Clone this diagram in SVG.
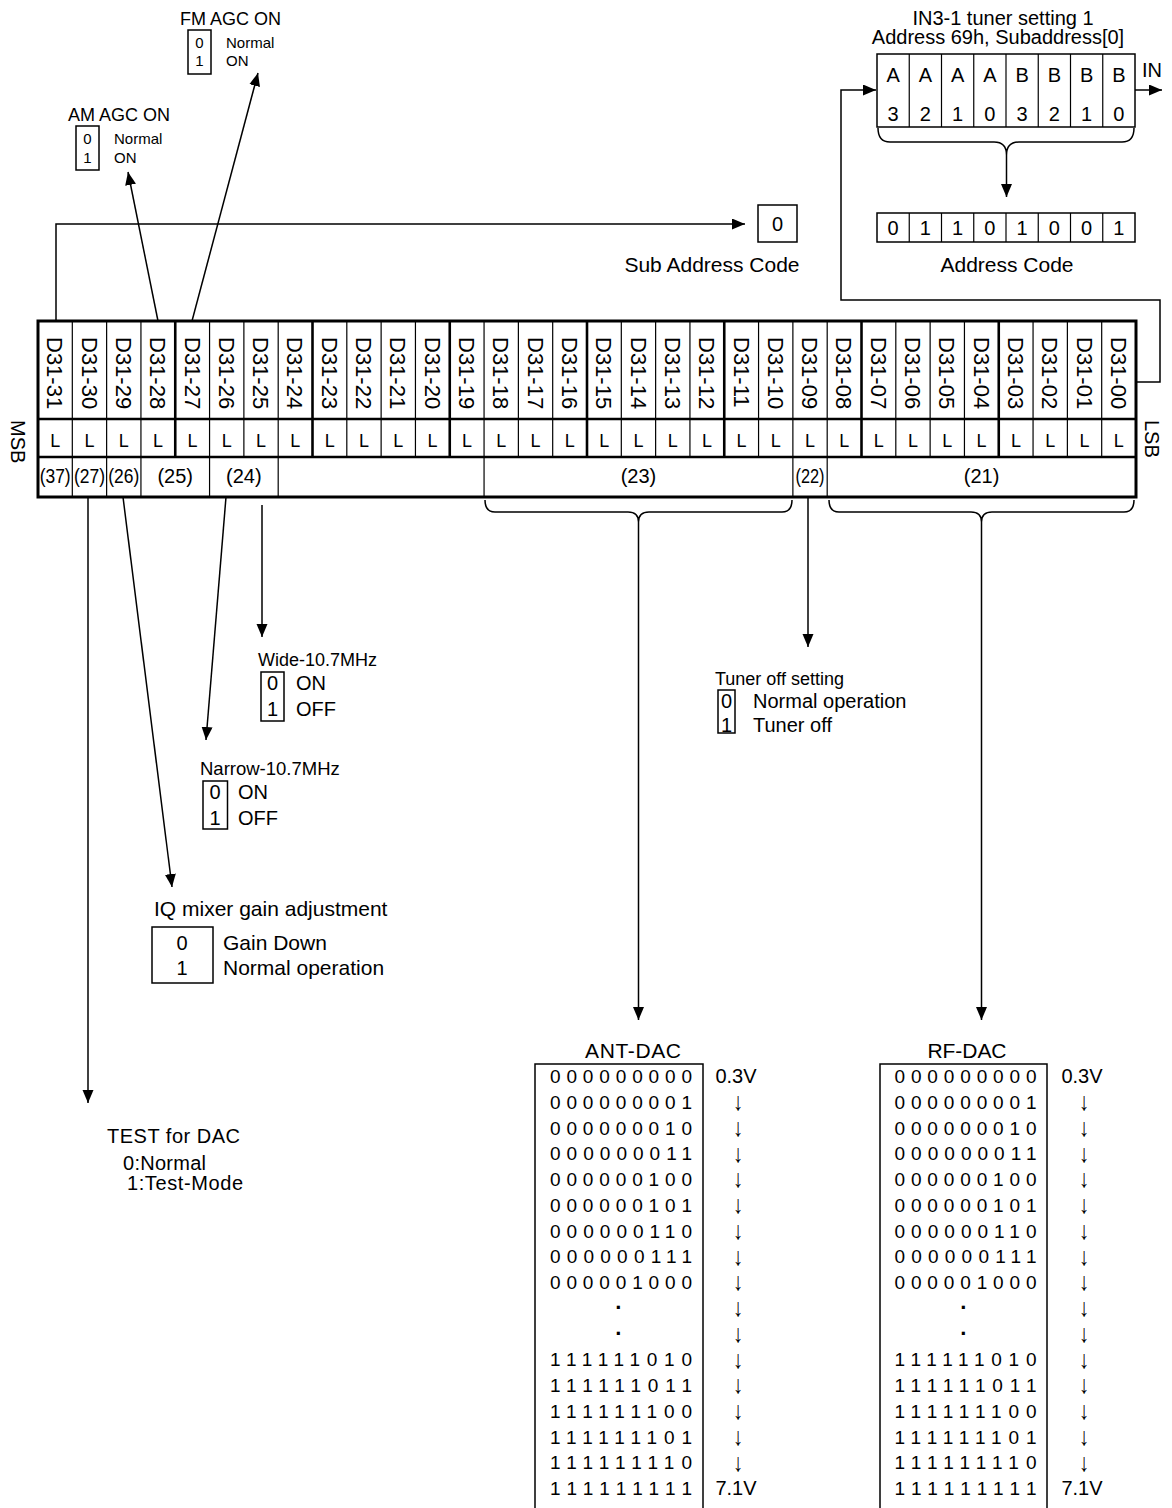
<svg xmlns="http://www.w3.org/2000/svg" width="1172" height="1508" viewBox="0 0 1172 1508">
<style>
text{font-family:"Liberation Sans",Arial,"DejaVu Sans",sans-serif;fill:#000}
.m{text-anchor:middle}
.ln{stroke:#000;stroke-width:1.5;fill:none}
.bx{stroke:#000;stroke-width:1.5;fill:#fff}
.thin{stroke:#000;stroke-width:1.2}
.thk{stroke:#000;stroke-width:2.6}
.f15{font-size:15px}.f18{font-size:18px}.f185{font-size:18.5px}.f19{font-size:19px}.f20{font-size:20px}.f21{font-size:21px}.f22{font-size:22px}
.arw{font-family:"DejaVu Sans",sans-serif;font-size:21px;text-anchor:middle;fill:#000}
.dot{font-size:22px;text-anchor:middle;font-weight:bold}
</style>
<defs>
<marker id="ah" markerUnits="userSpaceOnUse" markerWidth="14" markerHeight="12" refX="13" refY="5.5" orient="auto">
<path d="M0,0 L13,5.5 L0,11 z" fill="#000"/>
</marker>
</defs>

<g id="connectors">
<polyline class="ln" points="56,321 56,224 745,224" marker-end="url(#ah)"/>
<line class="ln" x1="158" y1="321" x2="128" y2="172" marker-end="url(#ah)"/>
<line class="ln" x1="192" y1="321" x2="258" y2="73" marker-end="url(#ah)"/>
<polyline class="ln" points="1136,382 1160,382 1160,300 841,300 841,90 876,90" marker-end="url(#ah)"/>
<line class="ln" x1="1135" y1="90" x2="1162" y2="90" marker-end="url(#ah)"/>
<path class="ln" d="M878,128 Q878,142 890,142 L994,142 Q1006.5,142 1006.5,155 Q1006.5,142 1019,142 L1122,142 Q1134,142 1134,128"/>
<line class="ln" x1="1006.5" y1="155" x2="1006.5" y2="197" marker-end="url(#ah)"/>
<path class="ln" d="M485,500 Q485,512 495,512 L628,512 Q638.5,512 638.5,522 Q638.5,512 649,512 L782,512 Q792,512 792,500"/>
<line class="ln" x1="638.5" y1="522" x2="638.5" y2="1020" marker-end="url(#ah)"/>
<path class="ln" d="M829,500 Q829,512 839,512 L971,512 Q981.5,512 981.5,522 Q981.5,512 992,512 L1124,512 Q1134,512 1134,500"/>
<line class="ln" x1="981.5" y1="522" x2="981.5" y2="1020" marker-end="url(#ah)"/>
<line class="ln" x1="808" y1="497" x2="808" y2="647" marker-end="url(#ah)"/>
<line class="ln" x1="262" y1="505" x2="262" y2="637" marker-end="url(#ah)"/>
<line class="ln" x1="226" y1="497" x2="206" y2="740" marker-end="url(#ah)"/>
<line class="ln" x1="123" y1="497" x2="172" y2="887" marker-end="url(#ah)"/>
<line class="ln" x1="88" y1="497" x2="88" y2="1103" marker-end="url(#ah)"/>
</g>

<g id="register">
<rect x="38" y="321" width="1098" height="176" fill="#fff" stroke="#000" stroke-width="3"/>
<line class="thk" x1="38" y1="419" x2="1136" y2="419"/>
<line class="thk" x1="38" y1="457" x2="1136" y2="457"/>
<g class="thin">
<line x1="72.31" y1="321" x2="72.31" y2="497"/>
<line x1="106.63" y1="321" x2="106.63" y2="497"/>
<line x1="140.94" y1="321" x2="140.94" y2="497"/>
<line x1="209.56" y1="321" x2="209.56" y2="497"/>
<line x1="243.88" y1="321" x2="243.88" y2="457"/>
<line x1="278.19" y1="321" x2="278.19" y2="497"/>
<line x1="346.81" y1="321" x2="346.81" y2="457"/>
<line x1="381.13" y1="321" x2="381.13" y2="457"/>
<line x1="415.44" y1="321" x2="415.44" y2="457"/>
<line x1="484.06" y1="321" x2="484.06" y2="497"/>
<line x1="518.38" y1="321" x2="518.38" y2="457"/>
<line x1="552.69" y1="321" x2="552.69" y2="457"/>
<line x1="621.31" y1="321" x2="621.31" y2="457"/>
<line x1="655.63" y1="321" x2="655.63" y2="457"/>
<line x1="689.94" y1="321" x2="689.94" y2="457"/>
<line x1="758.56" y1="321" x2="758.56" y2="457"/>
<line x1="792.88" y1="321" x2="792.88" y2="497"/>
<line x1="827.19" y1="321" x2="827.19" y2="497"/>
<line x1="895.81" y1="321" x2="895.81" y2="457"/>
<line x1="930.13" y1="321" x2="930.13" y2="457"/>
<line x1="964.44" y1="321" x2="964.44" y2="457"/>
<line x1="1033.06" y1="321" x2="1033.06" y2="457"/>
<line x1="1067.38" y1="321" x2="1067.38" y2="457"/>
<line x1="1101.69" y1="321" x2="1101.69" y2="457"/>
</g>
<g class="thk">
<line x1="175.25" y1="321" x2="175.25" y2="457"/>
<line x1="312.5" y1="321" x2="312.5" y2="457"/>
<line x1="449.75" y1="321" x2="449.75" y2="457"/>
<line x1="587" y1="321" x2="587" y2="457"/>
<line x1="724.25" y1="321" x2="724.25" y2="457"/>
<line x1="861.5" y1="321" x2="861.5" y2="457"/>
<line x1="998.75" y1="321" x2="998.75" y2="457"/>
</g>
<g class="f22">
<text transform="translate(47.26,337) rotate(90)">D31-31</text>
<text transform="translate(81.57,337) rotate(90)">D31-30</text>
<text transform="translate(115.89,337) rotate(90)">D31-29</text>
<text transform="translate(150.2,337) rotate(90)">D31-28</text>
<text transform="translate(184.51,337) rotate(90)">D31-27</text>
<text transform="translate(218.82,337) rotate(90)">D31-26</text>
<text transform="translate(253.14,337) rotate(90)">D31-25</text>
<text transform="translate(287.45,337) rotate(90)">D31-24</text>
<text transform="translate(321.76,337) rotate(90)">D31-23</text>
<text transform="translate(356.07,337) rotate(90)">D31-22</text>
<text transform="translate(390.39,337) rotate(90)">D31-21</text>
<text transform="translate(424.7,337) rotate(90)">D31-20</text>
<text transform="translate(459.01,337) rotate(90)">D31-19</text>
<text transform="translate(493.32,337) rotate(90)">D31-18</text>
<text transform="translate(527.64,337) rotate(90)">D31-17</text>
<text transform="translate(561.95,337) rotate(90)">D31-16</text>
<text transform="translate(596.26,337) rotate(90)">D31-15</text>
<text transform="translate(630.57,337) rotate(90)">D31-14</text>
<text transform="translate(664.89,337) rotate(90)">D31-13</text>
<text transform="translate(699.2,337) rotate(90)">D31-12</text>
<text transform="translate(733.51,337) rotate(90)">D31-11</text>
<text transform="translate(767.82,337) rotate(90)">D31-10</text>
<text transform="translate(802.14,337) rotate(90)">D31-09</text>
<text transform="translate(836.45,337) rotate(90)">D31-08</text>
<text transform="translate(870.76,337) rotate(90)">D31-07</text>
<text transform="translate(905.07,337) rotate(90)">D31-06</text>
<text transform="translate(939.39,337) rotate(90)">D31-05</text>
<text transform="translate(973.7,337) rotate(90)">D31-04</text>
<text transform="translate(1008.01,337) rotate(90)">D31-03</text>
<text transform="translate(1042.32,337) rotate(90)">D31-02</text>
<text transform="translate(1076.64,337) rotate(90)">D31-01</text>
<text transform="translate(1110.95,337) rotate(90)">D31-00</text>
</g>
<g class="f18 m">
<text x="55.16" y="447">L</text><text x="89.47" y="447">L</text><text x="123.79" y="447">L</text><text x="158.1" y="447">L</text>
<text x="192.41" y="447">L</text><text x="226.72" y="447">L</text><text x="261.04" y="447">L</text><text x="295.35" y="447">L</text>
<text x="329.66" y="447">L</text><text x="363.97" y="447">L</text><text x="398.29" y="447">L</text><text x="432.6" y="447">L</text>
<text x="466.91" y="447">L</text><text x="501.22" y="447">L</text><text x="535.54" y="447">L</text><text x="569.85" y="447">L</text>
<text x="604.16" y="447">L</text><text x="638.47" y="447">L</text><text x="672.79" y="447">L</text><text x="707.1" y="447">L</text>
<text x="741.41" y="447">L</text><text x="775.72" y="447">L</text><text x="810.04" y="447">L</text><text x="844.35" y="447">L</text>
<text x="878.66" y="447">L</text><text x="912.97" y="447">L</text><text x="947.29" y="447">L</text><text x="981.6" y="447">L</text>
<text x="1015.91" y="447">L</text><text x="1050.22" y="447">L</text><text x="1084.54" y="447">L</text><text x="1118.85" y="447">L</text>
</g>
<g class="f20 m">
<text x="55.16" y="483" textLength="31" lengthAdjust="spacingAndGlyphs">(37)</text>
<text x="89.47" y="483" textLength="31" lengthAdjust="spacingAndGlyphs">(27)</text>
<text x="123.79" y="483" textLength="31" lengthAdjust="spacingAndGlyphs">(26)</text>
<text x="175.25" y="483">(25)</text>
<text x="243.88" y="483">(24)</text>
<text x="638.47" y="483">(23)</text>
<text x="810.04" y="483" textLength="29" lengthAdjust="spacingAndGlyphs">(22)</text>
<text x="981.6" y="483">(21)</text>
</g>
<text class="f20" transform="translate(11,420) rotate(90)">MSB</text>
<text class="f20" transform="translate(1145,420) rotate(90)">LSB</text>
</g>

<g id="am-agc">
<text class="f18" x="68" y="121">AM AGC ON</text>
<rect class="bx" x="76" y="126" width="23" height="44"/>
<text class="f15 m" x="87.5" y="144">0</text>
<text class="f15 m" x="87.5" y="163">1</text>
<text class="f15" x="114" y="144">Normal</text>
<text class="f15" x="114" y="163">ON</text>
</g>

<g id="fm-agc">
<text class="f18" x="180" y="25">FM AGC ON</text>
<rect class="bx" x="188" y="30" width="23" height="44"/>
<text class="f15 m" x="199.5" y="48">0</text>
<text class="f15 m" x="199.5" y="66">1</text>
<text class="f15" x="226" y="48">Normal</text>
<text class="f15" x="226" y="66">ON</text>
</g>

<g id="sub-address">
<rect class="bx" x="758" y="205" width="39" height="37"/>
<text class="f20 m" x="777.5" y="231">0</text>
<text class="f21 m" x="712" y="272">Sub Address Code</text>
</g>

<g id="tuner-setting">
<text class="f20 m" x="1003" y="25">IN3-1 tuner setting 1</text>
<text class="f20 m" x="998" y="44">Address 69h, Subaddress[0]</text>
<rect class="bx" x="877" y="54" width="258" height="73"/>
<g class="thin">
<line x1="909.25" y1="54" x2="909.25" y2="127"/><line x1="941.5" y1="54" x2="941.5" y2="127"/>
<line x1="973.75" y1="54" x2="973.75" y2="127"/><line x1="1006" y1="54" x2="1006" y2="127"/>
<line x1="1038.25" y1="54" x2="1038.25" y2="127"/><line x1="1070.5" y1="54" x2="1070.5" y2="127"/>
<line x1="1102.75" y1="54" x2="1102.75" y2="127"/>
</g>
<g class="f20 m">
<text x="893.1" y="82">A</text><text x="925.4" y="82">A</text><text x="957.6" y="82">A</text><text x="989.9" y="82">A</text>
<text x="1022.1" y="82">B</text><text x="1054.4" y="82">B</text><text x="1086.6" y="82">B</text><text x="1118.9" y="82">B</text>
<text x="893.1" y="121">3</text><text x="925.4" y="121">2</text><text x="957.6" y="121">1</text><text x="989.9" y="121">0</text>
<text x="1022.1" y="121">3</text><text x="1054.4" y="121">2</text><text x="1086.6" y="121">1</text><text x="1118.9" y="121">0</text>
</g>
<text class="f20" x="1142" y="77">IN</text>
</g>

<g id="address-code">
<rect class="bx" x="877" y="213" width="258" height="29"/>
<g class="thin">
<line x1="909.25" y1="213" x2="909.25" y2="242"/><line x1="941.5" y1="213" x2="941.5" y2="242"/>
<line x1="973.75" y1="213" x2="973.75" y2="242"/><line x1="1006" y1="213" x2="1006" y2="242"/>
<line x1="1038.25" y1="213" x2="1038.25" y2="242"/><line x1="1070.5" y1="213" x2="1070.5" y2="242"/>
<line x1="1102.75" y1="213" x2="1102.75" y2="242"/>
</g>
<g class="f20 m">
<text x="893.1" y="235">0</text><text x="925.4" y="235">1</text><text x="957.6" y="235">1</text><text x="989.9" y="235">0</text>
<text x="1022.1" y="235">1</text><text x="1054.4" y="235">0</text><text x="1086.6" y="235">0</text><text x="1118.9" y="235">1</text>
</g>
<text class="f21 m" x="1007" y="272">Address Code</text>
</g>

<g id="wide">
<text class="f18" x="258" y="666">Wide-10.7MHz</text>
<rect class="bx" x="261" y="672" width="23" height="49"/>
<text class="f20 m" x="272.5" y="690">0</text>
<text class="f20 m" x="272.5" y="716">1</text>
<text class="f20" x="296" y="690">ON</text>
<text class="f20" x="296" y="716">OFF</text>
</g>

<g id="narrow">
<text class="f185" x="200" y="775">Narrow-10.7MHz</text>
<rect class="bx" x="203" y="781" width="24.5" height="48"/>
<text class="f20 m" x="215" y="799">0</text>
<text class="f20 m" x="215" y="825">1</text>
<text class="f20" x="238" y="799">ON</text>
<text class="f20" x="238" y="825">OFF</text>
</g>

<g id="iq-mixer">
<text class="f21" x="154" y="916">IQ mixer gain adjustment</text>
<rect class="bx" x="152" y="927" width="61" height="56"/>
<text class="f20 m" x="182" y="950">0</text>
<text class="f20 m" x="182" y="975">1</text>
<text class="f21" x="223" y="950">Gain Down</text>
<text class="f21" x="223" y="975">Normal operation</text>
</g>

<g id="tuner-off">
<text class="f18" x="715" y="685">Tuner off setting</text>
<rect class="bx" x="718" y="690" width="17" height="43"/>
<text class="f20 m" x="726.5" y="708">0</text>
<text class="f20 m" x="726.5" y="731.5">1</text>
<text class="f20" x="753" y="708">Normal operation</text>
<text class="f20" x="753" y="731.5">Tuner off</text>
</g>

<g id="test-dac">
<text class="f20" x="107" y="1143" textLength="133">TEST for DAC</text>
<text class="f20" x="123" y="1170" textLength="83">0:Normal</text>
<text class="f20" x="127" y="1190" textLength="116">1:Test-Mode</text>
</g>

<g id="ant-dac">
<text class="f21 m" x="633" y="1058" textLength="96">ANT-DAC</text>
<rect class="bx" x="535" y="1064" width="168" height="470"/>
<g class="f19 m">
<text x="621" y="1083" textLength="142">000000000</text>
<text x="621" y="1108.75" textLength="142">000000001</text>
<text x="621" y="1134.5" textLength="142">000000010</text>
<text x="621" y="1160.25" textLength="142">000000011</text>
<text x="621" y="1186" textLength="142">000000100</text>
<text x="621" y="1211.75" textLength="142">000000101</text>
<text x="621" y="1237.5" textLength="142">000000110</text>
<text x="621" y="1263.25" textLength="142">000000111</text>
<text x="621" y="1289" textLength="142">000001000</text>
<text x="621" y="1366.25" textLength="142">111111010</text>
<text x="621" y="1392" textLength="142">111111011</text>
<text x="621" y="1417.75" textLength="142">111111100</text>
<text x="621" y="1443.5" textLength="142">111111101</text>
<text x="621" y="1469.25" textLength="142">111111110</text>
<text x="621" y="1495" textLength="142">111111111</text>
</g>
<text class="dot" x="619" y="1315">·</text>
<text class="dot" x="619" y="1341">·</text>
<text class="f20 m" x="736" y="1083">0.3V</text>
<g class="arw">
<text transform="translate(738,1110) scale(1,1.2)">↓&#xFE0E;</text><text transform="translate(738,1136) scale(1,1.2)">↓&#xFE0E;</text><text transform="translate(738,1161.5) scale(1,1.2)">↓&#xFE0E;</text>
<text transform="translate(738,1187) scale(1,1.2)">↓&#xFE0E;</text><text transform="translate(738,1213) scale(1,1.2)">↓&#xFE0E;</text><text transform="translate(738,1239) scale(1,1.2)">↓&#xFE0E;</text>
<text transform="translate(738,1264.5) scale(1,1.2)">↓&#xFE0E;</text><text transform="translate(738,1290) scale(1,1.2)">↓&#xFE0E;</text><text transform="translate(738,1316) scale(1,1.2)">↓&#xFE0E;</text>
<text transform="translate(738,1342) scale(1,1.2)">↓&#xFE0E;</text><text transform="translate(738,1367.5) scale(1,1.2)">↓&#xFE0E;</text><text transform="translate(738,1393) scale(1,1.2)">↓&#xFE0E;</text>
<text transform="translate(738,1419) scale(1,1.2)">↓&#xFE0E;</text><text transform="translate(738,1445) scale(1,1.2)">↓&#xFE0E;</text><text transform="translate(738,1470.5) scale(1,1.2)">↓&#xFE0E;</text>
</g>
<text class="f20 m" x="736" y="1495">7.1V</text>
</g>

<g id="rf-dac">
<text class="f21 m" x="967" y="1058" textLength="79">RF-DAC</text>
<rect class="bx" x="880" y="1064" width="167" height="470"/>
<g class="f19 m">
<text x="965.5" y="1083" textLength="142">000000000</text>
<text x="965.5" y="1108.75" textLength="142">000000001</text>
<text x="965.5" y="1134.5" textLength="142">000000010</text>
<text x="965.5" y="1160.25" textLength="142">000000011</text>
<text x="965.5" y="1186" textLength="142">000000100</text>
<text x="965.5" y="1211.75" textLength="142">000000101</text>
<text x="965.5" y="1237.5" textLength="142">000000110</text>
<text x="965.5" y="1263.25" textLength="142">000000111</text>
<text x="965.5" y="1289" textLength="142">000001000</text>
<text x="965.5" y="1366.25" textLength="142">111111010</text>
<text x="965.5" y="1392" textLength="142">111111011</text>
<text x="965.5" y="1417.75" textLength="142">111111100</text>
<text x="965.5" y="1443.5" textLength="142">111111101</text>
<text x="965.5" y="1469.25" textLength="142">111111110</text>
<text x="965.5" y="1495" textLength="142">111111111</text>
</g>
<text class="dot" x="964" y="1315">·</text>
<text class="dot" x="964" y="1341">·</text>
<text class="f20 m" x="1082" y="1083">0.3V</text>
<g class="arw">
<text transform="translate(1084,1110) scale(1,1.2)">↓&#xFE0E;</text><text transform="translate(1084,1136) scale(1,1.2)">↓&#xFE0E;</text><text transform="translate(1084,1161.5) scale(1,1.2)">↓&#xFE0E;</text>
<text transform="translate(1084,1187) scale(1,1.2)">↓&#xFE0E;</text><text transform="translate(1084,1213) scale(1,1.2)">↓&#xFE0E;</text><text transform="translate(1084,1239) scale(1,1.2)">↓&#xFE0E;</text>
<text transform="translate(1084,1264.5) scale(1,1.2)">↓&#xFE0E;</text><text transform="translate(1084,1290) scale(1,1.2)">↓&#xFE0E;</text><text transform="translate(1084,1316) scale(1,1.2)">↓&#xFE0E;</text>
<text transform="translate(1084,1342) scale(1,1.2)">↓&#xFE0E;</text><text transform="translate(1084,1367.5) scale(1,1.2)">↓&#xFE0E;</text><text transform="translate(1084,1393) scale(1,1.2)">↓&#xFE0E;</text>
<text transform="translate(1084,1419) scale(1,1.2)">↓&#xFE0E;</text><text transform="translate(1084,1445) scale(1,1.2)">↓&#xFE0E;</text><text transform="translate(1084,1470.5) scale(1,1.2)">↓&#xFE0E;</text>
</g>
<text class="f20 m" x="1082" y="1495">7.1V</text>
</g>
</svg>
